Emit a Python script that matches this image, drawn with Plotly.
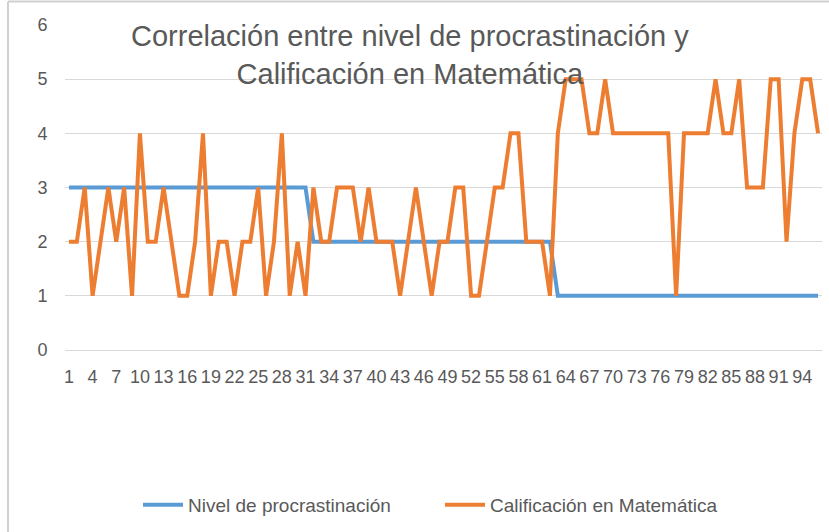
import plotly.graph_objects as go

categories = list(range(1, 97))
procrastinacion = [3] * 31 + [2] * 31 + [1] * 34
matematica = [2, 2, 3, 1, 2, 3, 2, 3, 1, 4, 2, 2, 3, 2, 1, 1, 2, 4, 1, 2,
              2, 1, 2, 2, 3, 1, 2, 4, 1, 2, 1, 3, 2, 2, 3, 3, 3, 2, 3, 2,
              2, 2, 1, 2, 3, 2, 1, 2, 2, 3, 3, 1, 1, 2, 3, 3, 4, 4, 2, 2,
              2, 1, 4, 5, 5, 5, 4, 4, 5, 4, 4, 4, 4, 4, 4, 4, 4, 1, 4, 4,
              4, 4, 5, 4, 4, 5, 3, 3, 3, 5, 5, 2, 4, 5, 5, 4]
tick_vals = list(range(1, 97, 3))
tick_text = [str(v) for v in tick_vals]
y_ticks = [0, 1, 2, 3, 4, 5, 6]

FONT = "Liberation Sans"
GRAY = "#595959"
GRID = "#d9d9d9"

fig = go.Figure()
fig.add_trace(go.Scatter(x=categories, y=procrastinacion, mode="lines",
                         name="Nivel de procrastinación",
                         line=dict(color="#5B9BD5", width=4)))
fig.add_trace(go.Scatter(x=categories, y=matematica, mode="lines",
                         name="Calificación en Matemática",
                         line=dict(color="#ED7D31", width=4)))

L, R, T, B = 65, 7, 25, 182
W, H = 829, 532
pw, ph = W - L - R, H - T - B

def px_x(p):
    return (p - L) / pw

def px_y(p):
    return (H - B - p) / ph

fig.update_layout(
    width=W, height=H,
    margin=dict(l=L, r=R, t=T, b=B),
    paper_bgcolor="white", plot_bgcolor="white",
    font=dict(family=FONT, color=GRAY),
    showlegend=True,
    legend=dict(orientation="h", x=px_x(138), xanchor="left",
                y=px_y(505), yanchor="middle",
                font=dict(size=19, color=GRAY, family=FONT),
                entrywidth=247, entrywidthmode="pixels",
                itemwidth=40, tracegroupgap=0),
    xaxis=dict(range=[0.5, 96.5], tickmode="array", tickvals=tick_vals,
               ticktext=tick_text, tickangle=0, showgrid=False,
               zeroline=False, showline=True, linecolor=GRID, linewidth=1,
               ticks="outside", ticklen=10, tickcolor="rgba(0,0,0,0)",
               tickfont=dict(size=18, color=GRAY, family=FONT)),
    yaxis=dict(range=[0, 6], tickmode="array", tickvals=y_ticks,
               showgrid=True, gridcolor=GRID, gridwidth=1, zeroline=False,
               showline=False, ticks="outside", ticklen=13,
               tickcolor="rgba(0,0,0,0)",
               tickfont=dict(size=18, color=GRAY, family=FONT)),
    annotations=[dict(text="Correlación entre nivel de procrastinación y<br>Calificación en Matemática",
                      xref="paper", yref="paper", x=px_x(410), y=px_y(55),
                      xanchor="center", yanchor="middle", showarrow=False,
                      font=dict(size=29, color=GRAY, family=FONT))],
    shapes=[
        dict(type="line", xref="paper", yref="paper",
             x0=px_x(8), x1=px_x(829), y0=px_y(1.5), y1=px_y(1.5),
             line=dict(color="#d0d0d0", width=2)),
        dict(type="line", xref="paper", yref="paper",
             x0=px_x(8), x1=px_x(8), y0=px_y(1.5), y1=px_y(532),
             line=dict(color="#d0d0d0", width=2)),
    ],
)

fig.write_html("out.html", config={"displayModeBar": False},
               post_script="document.body.style.margin='0';")
